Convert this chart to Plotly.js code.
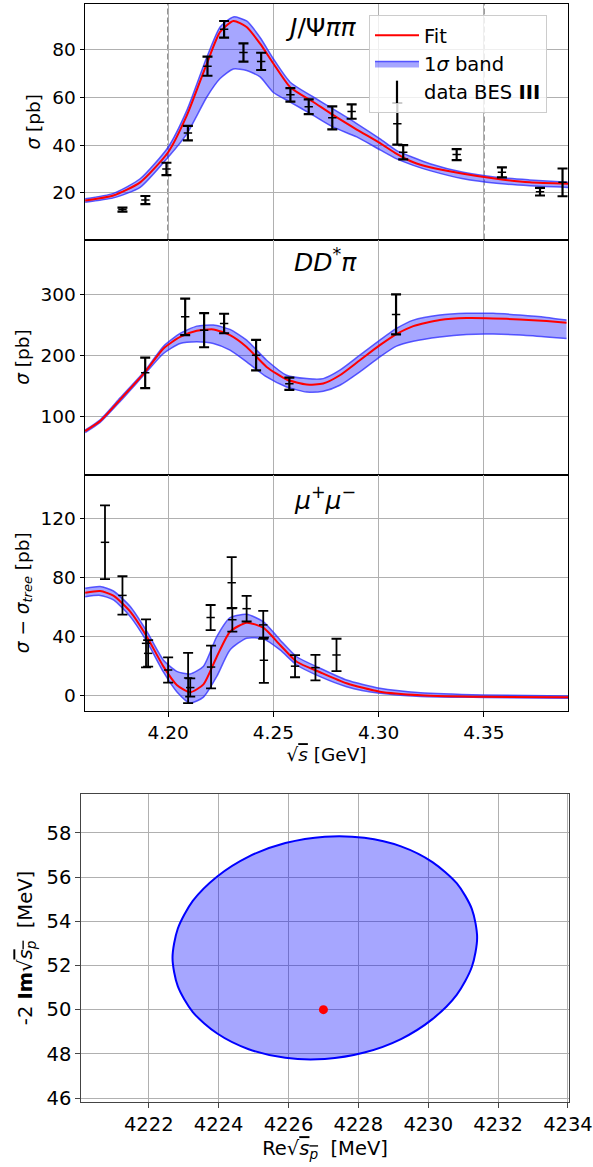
<!DOCTYPE html>
<html>
<head>
<meta charset="utf-8">
<script src="https://cdn.plot.ly/plotly-3.0.1.min.js"></script>
<style>html,body{margin:0;padding:0;background:#fff;}#plot{width:593px;height:1167px;}</style>
</head>
<body>
<div id="plot"></div>
<script>
// ---------- J/Psi pi pi panel ----------
const jpsiCurveX = [4.1606, 4.174, 4.1867, 4.2, 4.2089, 4.2184, 4.2247, 4.231, 4.2373, 4.2437, 4.25, 4.258, 4.269, 4.2785, 4.2896, 4.3007, 4.3086, 4.3165, 4.3244, 4.3402, 4.356, 4.3718, 4.39];
const jpsiFit   = [16.8, 18.9, 24.4, 37, 52.4, 74.1, 87.3, 91.9, 89.4, 82.4, 74.1, 64.2, 58, 52.5, 46.5, 40.8, 36.3, 32.8, 30.7, 28, 25.9, 24.4, 23.8];
const jpsiUpper = [17.5, 19.8, 25.9, 39.1, 54.5, 76.8, 89.4, 93.6, 91.9, 85, 76.1, 66.3, 60.1, 55, 49, 42.6, 37.7, 34.8, 32.2, 28.6, 26.5, 25.4, 24.4];
const jpsiLower = [16.1, 17.9, 22.3, 34.9, 44.7, 60.1, 67.8, 71.8, 71.2, 68.5, 62, 58, 52.4, 47.5, 43.4, 38, 34.2, 31.5, 29.3, 25.9, 24, 23, 22.3];
const jpsiDataX = [4.1783, 4.1892, 4.1992, 4.2094, 4.2187, 4.2266, 4.2358, 4.2442, 4.2581, 4.2668, 4.2780, 4.2872, 4.3089, 4.3117, 4.3371, 4.3586, 4.3767, 4.3874];
const jpsiDataY = [13, 17, 30, 45, 73, 88.4, 78.7, 75, 61, 56, 51.4, 54, 48.9, 37, 36, 28.6, 20.5, 24.4];
const jpsiDataE = [0.8, 1.7, 2.6, 3, 4, 3.5, 3.8, 3.6, 2.8, 3.1, 4.8, 3, 8.7, 3, 2.3, 2.1, 1.6, 5.8];
const thresholds = [4.20, 4.35];

// ---------- D D* pi panel ----------
const ddpCurveX = [4.1606, 4.1677, 4.1772, 4.1891, 4.1978, 4.2057, 4.2136, 4.2215, 4.2294, 4.2373, 4.2468, 4.2563, 4.2658, 4.2737, 4.2816, 4.2911, 4.3006, 4.3085, 4.3165, 4.3291, 4.3418, 4.3544, 4.3671, 4.3798, 4.3893];
const ddpFit   = [75.3, 91.8, 127, 172.5, 211, 230, 240, 242.3, 233, 213.6, 180.7, 160, 151.7, 153.4, 167, 191.7, 216.4, 234.6, 247.7, 257.6, 260.9, 260.4, 258.8, 256, 253.2];
const ddpUpper = [77, 94, 130, 175, 214.8, 235.7, 247.7, 249.4, 242.3, 224.7, 191.7, 167, 161.5, 161.5, 175.3, 200, 224.7, 243.9, 257.6, 265.9, 268.7, 268.7, 265.9, 262, 257.6];
const ddpLower = [73, 89.5, 124, 169.8, 202.8, 219.2, 221.9, 219.2, 208.2, 188.9, 164.2, 147.8, 139.5, 140.7, 150.6, 172.5, 197.2, 214.8, 223, 230, 234, 234.6, 233, 230, 227.5];
const ddpDataX = [4.1891, 4.2081, 4.2171, 4.2266, 4.2418, 4.2576, 4.3083];
const ddpDataY = [171, 263, 241, 252, 200, 153, 267];
const ddpDataE = [25, 30, 28, 16, 25, 10, 33];

// ---------- mu+ mu- panel ----------
const mumuCurveX = [4.1606, 4.1677, 4.174, 4.182, 4.1899, 4.1978, 4.2041, 4.2104, 4.2168, 4.2231, 4.2294, 4.2373, 4.2452, 4.2532, 4.2611, 4.2722, 4.2848, 4.3006, 4.32, 4.35, 4.39];
const mumuFit   = [69.8, 71, 67.8, 57, 40, 19.7, 7.3, 2.3, 7.7, 26.4, 43.4, 49.5, 46.1, 34.4, 23, 15.9, 8.4, 2.7, 0.3, -0.8, -1];
const mumuUpper = [72.8, 74, 71, 60.5, 43.6, 24, 16.5, 14.7, 20, 40, 52.9, 55.2, 50.2, 37.8, 26.4, 18.6, 10.6, 5, 2, 0.5, -0.2];
const mumuLower = [67.1, 68, 65, 53.6, 36.6, 15.9, 2.7, -5, -1, 13, 31, 39, 38.5, 31, 20.8, 12.9, 6.1, 1.6, -0.5, -1.2, -1.8];
const mumuDataX = [4.17, 4.1783, 4.1895, 4.1905, 4.2, 4.2095, 4.2105, 4.2202, 4.2204, 4.2302, 4.2305, 4.2373, 4.2452, 4.2455, 4.2603, 4.27, 4.28];
const mumuDataY = [104, 68, 35.5, 28.7, 17.4, 12, 5.5, 53, 19.4, 76.6, 51.5, 59, 48, 24, 20, 19, 27.6];
const mumuDataE = [25, 13, 16.3, 9, 8.6, 17, 6.2, 8.5, 14.5, 17.3, 8, 8.7, 9.5, 15.3, 7.5, 8.6, 11];

// ---------- pole position panel ----------
const ellipseRe = [4231.40, 4231.25, 4230.82, 4230.12, 4229.22, 4228.17, 4227.04, 4225.91, 4224.86, 4223.96, 4223.26, 4222.83, 4222.68, 4222.83, 4223.26, 4223.96, 4224.86, 4225.91, 4227.04, 4228.17, 4229.22, 4230.12, 4230.82, 4231.25, 4231.40];
const ellipseIm = [53.26, 54.55, 55.71, 56.68, 57.39, 57.78, 57.83, 57.54, 56.93, 56.03, 54.92, 53.66, 52.34, 51.06, 49.89, 48.92, 48.21, 47.82, 47.77, 48.06, 48.67, 49.57, 50.68, 51.94, 53.26];
const poleRe = [4227.0];
const poleIm = [50.0];

const FONT = 'DejaVu Sans, sans-serif';
const BAND_FILL = 'rgba(0,0,255,0.35)';
const BAND_LINE = 'rgba(40,40,255,0.75)';

function panelTraces(xa, ya, cx, fit, up, lo, dx, dy, de, showLeg, ebw) {
  return [
    {x: cx, y: lo, xaxis: xa, yaxis: ya, type: 'scatter', mode: 'lines',
     line: {color: BAND_LINE, width: 1.5, shape: 'spline', smoothing: 0.6}, showlegend: false, hoverinfo: 'skip'},
    {x: cx, y: up, xaxis: xa, yaxis: ya, type: 'scatter', mode: 'lines', fill: 'tonexty', fillcolor: BAND_FILL,
     line: {color: BAND_LINE, width: 1.5, shape: 'spline', smoothing: 0.6}, name: '1<i>σ</i> band', legendrank: 2, showlegend: showLeg},
    {x: cx, y: fit, xaxis: xa, yaxis: ya, type: 'scatter', mode: 'lines',
     line: {color: '#ff0000', width: 2, shape: 'spline', smoothing: 0.6}, name: 'Fit', legendrank: 1, showlegend: showLeg},
    {x: dx, y: dy, xaxis: xa, yaxis: ya, type: 'scatter', mode: 'markers',
     marker: {symbol: 'line-ew-open', size: 6, color: 'black', line: {color: 'black', width: 1.5}},
     error_y: {type: 'data', array: de, visible: true, color: 'black', thickness: ebw, width: 5},
     showlegend: false}
  ];
}

const traces = [].concat(
  panelTraces('x', 'y', jpsiCurveX, jpsiFit, jpsiUpper, jpsiLower, jpsiDataX, jpsiDataY, jpsiDataE, true, 2.2),
  panelTraces('x2', 'y2', ddpCurveX, ddpFit, ddpUpper, ddpLower, ddpDataX, ddpDataY, ddpDataE, false, 2.2),
  panelTraces('x3', 'y3', mumuCurveX, mumuFit, mumuUpper, mumuLower, mumuDataX, mumuDataY, mumuDataE, false, 1.8),
  [
    {x: [null], y: [null], xaxis: 'x', yaxis: 'y', type: 'scatter', mode: 'markers', name: 'data BES <b>III</b>', legendrank: 3,
     marker: {symbol: 'line-ns-open', size: 18, color: 'black', line: {color: 'black', width: 2.2}}},
    {x: ellipseRe, y: ellipseIm, xaxis: 'x4', yaxis: 'y4', type: 'scatter', mode: 'lines', fill: 'toself',
     fillcolor: 'rgba(0,0,255,0.35)', line: {color: '#0000ff', width: 2, shape: 'spline', smoothing: 0.8}, showlegend: false},
    {x: poleRe, y: poleIm, xaxis: 'x4', yaxis: 'y4', type: 'scatter', mode: 'markers',
     marker: {color: '#ff0000', size: 9}, showlegend: false}
  ]
);

const W = 593, H = 1167;
const xd = [85 / W, 568 / W];
const yd = (top, bot) => [1 - bot / H, 1 - top / H];
const tickF = {family: FONT, size: 18.5, color: 'black'};
const titleF = {family: FONT, size: 18.5, color: 'black'};
const GRID = '#b0b0b0';
const XRANGE = [4.1605, 4.39];

function xax(showLabels, anchor) {
  return {domain: xd, range: XRANGE, anchor: anchor, tick0: 4.2, dtick: 0.05, tickformat: '.2f',
    showgrid: true, gridcolor: GRID, gridwidth: 1, zeroline: false,
    showline: true, linecolor: 'black', linewidth: 1, mirror: true,
    ticks: showLabels ? 'outside' : '', ticklen: 4.5, tickcolor: 'black', showticklabels: showLabels, tickfont: tickF};
}
function yax(dom, range, dtick, title, anchor) {
  return {domain: dom, range: range, anchor: anchor, dtick: dtick, tick0: 0,
    showgrid: true, gridcolor: GRID, gridwidth: 1, zeroline: false,
    showline: true, linecolor: 'black', linewidth: 1, mirror: true,
    ticks: 'outside', ticklen: 4.5, tickcolor: 'black', tickfont: tickF,
    title: {text: title, font: titleF, standoff: 6}};
}

const layout = {
  width: W, height: H,
  margin: {l: 0, r: 0, t: 0, b: 0},
  paper_bgcolor: 'white', plot_bgcolor: 'white',
  font: {family: FONT, color: 'black'},
  showlegend: true,
  legend: {x: 369 / W, y: 1 - 15 / H, xanchor: 'left', yanchor: 'top',
    bgcolor: 'rgba(255,255,255,0.8)', bordercolor: '#cccccc', borderwidth: 1,
    font: {family: FONT, size: 19.5, color: 'black'}, traceorder: 'normal', itemwidth: 44},
  xaxis: xax(false, 'y'),
  xaxis2: xax(false, 'y2'),
  xaxis3: Object.assign(xax(true, 'y3'), {title: {text: '√<span style="text-decoration:overline"><i>s</i></span> [GeV]', font: titleF, standoff: 6}}),
  yaxis: yax(yd(4, 239.5), [0.5, 99], 20, '<i>σ</i> [pb]', 'x'),
  yaxis2: yax(yd(239.5, 474.5), [4, 390], 100, '<i>σ</i> [pb]', 'x2'),
  yaxis3: yax(yd(474.5, 711), [-10.4, 150], 40, '<i>σ</i> − <i>σ<sub>tree</sub></i> [pb]', 'x3'),
  xaxis4: {domain: [81 / W, 569 / W], range: [4220.06, 4234.03], anchor: 'y4', tick0: 4222, dtick: 2,
    showgrid: true, gridcolor: GRID, gridwidth: 1, zeroline: false,
    showline: true, linecolor: '#444', linewidth: 1.2, mirror: true,
    ticks: 'outside', ticklen: 4.5, tickcolor: '#444', tickfont: {family: FONT, size: 19.5, color: 'black'},
    title: {text: 'Re√<span style="text-decoration:overline"><i>s<sub>p</sub></i></span>  [MeV]', font: {family: FONT, size: 19.5, color: 'black'}, standoff: 6}},
  yaxis4: {domain: yd(794, 1102), range: [45.82, 59.76], anchor: 'x4', tick0: 46, dtick: 2,
    showgrid: true, gridcolor: GRID, gridwidth: 1, zeroline: false,
    showline: true, linecolor: '#444', linewidth: 1.2, mirror: true,
    ticks: 'outside', ticklen: 4.5, tickcolor: '#444', tickfont: {family: FONT, size: 19.5, color: 'black'},
    title: {text: '-2 <b>Im</b>√<span style="text-decoration:overline"><i>s<sub>p</sub></i></span>  [MeV]', font: {family: FONT, size: 19.5, color: 'black'}, standoff: 8}},
  shapes: thresholds.map(t => ({type: 'line', xref: 'x', yref: 'y domain', x0: t, x1: t, y0: 0, y1: 1,
    line: {color: '#555555', width: 1.5, dash: '6px,3px'}, layer: 'below'})),
  annotations: [
    {text: '<i>J</i>/Ψ<i>ππ</i>', xref: 'paper', yref: 'paper', x: 321 / W, y: 1 - 27 / H, showarrow: false,
     font: {family: FONT, size: 25, color: 'black'}, xanchor: 'center', yanchor: 'middle'},
    {text: '<i>DD</i><sup>*</sup><i>π</i>', xref: 'paper', yref: 'paper', x: 325 / W, y: 1 - 260 / H, showarrow: false,
     font: {family: FONT, size: 25, color: 'black'}, xanchor: 'center', yanchor: 'middle'},
    {text: '<i>μ</i><sup>+</sup><i>μ</i><sup>−</sup>', xref: 'paper', yref: 'paper', x: 325 / W, y: 1 - 498 / H, showarrow: false,
     font: {family: FONT, size: 25, color: 'black'}, xanchor: 'center', yanchor: 'middle'}
  ]
};

Plotly.newPlot('plot', traces, layout, {displayModeBar: false, staticPlot: true});
</script>
</body>
</html>
